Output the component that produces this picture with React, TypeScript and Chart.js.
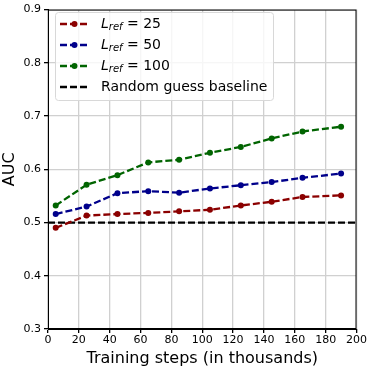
import React, { useEffect, useRef } from "react";
import { Chart, registerables } from "chart.js";
Chart.register(...registerables);

const steps = [5, 25, 45, 65, 85, 105, 125, 145, 165, 190];
const auc25 = [0.49, 0.513, 0.516, 0.518, 0.521, 0.524, 0.532, 0.539, 0.548, 0.551];
const auc50 = [0.516, 0.53, 0.555, 0.559, 0.556, 0.564, 0.57, 0.576, 0.584, 0.592];
const auc100 = [0.532, 0.571, 0.589, 0.613, 0.618, 0.631, 0.642, 0.658, 0.671, 0.68];
const lrefValues = ["25", "50", "100"];
const baselineX = [0, 200];
const baselineY = [0.5, 0.5];
const baselineLabel = "Random guess baseline";
const xTitle = "Training steps (in thousands)";
const yTitle = "AUC";

const FONT = "DejaVu Sans";
const colors = ["#8b0000", "#00008b", "#006400"];
const DASH = [7, 3];

export default function App() {
  const ref = useRef<HTMLCanvasElement>(null);
  useEffect(() => {
    const mk = (vals: number[], i: number) => ({
      label: "L_ref = " + lrefValues[i],
      data: steps.map((s, k) => ({ x: s, y: vals[k] })),
      borderColor: colors[i],
      backgroundColor: colors[i],
      borderWidth: 2.3,
      borderDash: DASH,
      pointRadius: 3,
      pointBorderWidth: 0,
      pointBackgroundColor: colors[i],
      tension: 0,
    });
    const framePlugin = {
      id: "frame",
      afterDraw(chart: any) {
        const { ctx, chartArea: a } = chart;
        ctx.save();
        ctx.strokeStyle = "#000";
        ctx.lineWidth = 1;
        ctx.strokeRect(a.left + 0.5, a.top + 0.5, a.right - a.left - 1, a.bottom - a.top - 1);
        ctx.restore();
      },
    };
    const legendPlugin = {
      id: "mplLegend",
      afterDraw(chart: any) {
        const ctx = chart.ctx as CanvasRenderingContext2D;
        const x0 = 55, y0 = 12, w = 218, h = 88;
        ctx.save();
        ctx.fillStyle = "rgba(255,255,255,0.8)";
        ctx.strokeStyle = "#d8d8d8";
        ctx.lineWidth = 1;
        ctx.beginPath();
        (ctx as any).roundRect(x0 + 0.5, y0 + 0.5, w, h, 3);
        ctx.fill();
        ctx.stroke();
        const rows = [24, 45, 66, 87];
        const ds = chart.data.datasets;
        for (let i = 0; i < 4; i++) {
          const y = rows[i];
          const d = ds[i];
          ctx.strokeStyle = d.borderColor;
          ctx.lineWidth = 2.3;
          ctx.setLineDash(DASH);
          ctx.beginPath();
          ctx.moveTo(60, y);
          ctx.lineTo(89, y);
          ctx.stroke();
          ctx.setLineDash([]);
          if (i < 3) {
            ctx.fillStyle = d.borderColor;
            ctx.beginPath();
            ctx.arc(74.5, y, 3, 0, Math.PI * 2);
            ctx.fill();
          }
          ctx.fillStyle = "#000";
          ctx.textBaseline = "middle";
          ctx.textAlign = "left";
          let tx = 101;
          if (i < 3) {
            ctx.font = `italic 14px "${FONT}"`;
            ctx.fillText("L", tx, y);
            tx += ctx.measureText("L").width;
            ctx.font = `italic 10px "${FONT}"`;
            ctx.fillText("ref", tx, y + 3);
            tx += ctx.measureText("ref").width;
            ctx.font = `14px "${FONT}"`;
            ctx.fillText(" = " + lrefValues[i], tx, y);
          } else {
            ctx.font = `14px "${FONT}"`;
            ctx.fillText(d.label, tx, y);
          }
        }
        ctx.restore();
      },
    };
    const chart = new Chart(ref.current!, {
      type: "line",
      data: {
        datasets: [
          mk(auc25, 0),
          mk(auc50, 1),
          mk(auc100, 2),
          {
            label: baselineLabel,
            data: baselineX.map((x, k) => ({ x, y: baselineY[k] })),
            borderColor: "#000",
            backgroundColor: "#000",
            borderWidth: 2.3,
            borderDash: DASH,
            pointRadius: 0,
          } as any,
        ],
      },
      options: {
        animation: false,
        responsive: false,
        layout: { padding: { top: 5, right: 11, left: 0, bottom: 0 } },
        plugins: { legend: { display: false }, tooltip: { enabled: false } },
        scales: {
          x: {
            type: "linear",
            min: 0,
            max: 200,
            afterFit: (s: any) => { s.height = 39; },
            ticks: { stepSize: 20, color: "#000", font: { family: FONT, size: 11 }, padding: 1, maxRotation: 0 },
            grid: { color: "#d0d0d0", lineWidth: 1.3, tickColor: "#000", tickLength: 4 },
            border: { color: "#000", width: 1 },
            title: { display: true, text: xTitle, color: "#000", font: { family: FONT, size: 16 }, padding: { top: 0, bottom: 0 } },
          },
          y: {
            type: "linear",
            min: 0.3,
            max: 0.9,
            afterFit: (s: any) => { s.width = 48; },
            ticks: { stepSize: 0.1, color: "#000", font: { family: FONT, size: 11 }, padding: 3, callback: (v: any) => Number(v).toFixed(1) },
            grid: { color: "#d0d0d0", lineWidth: 1.3, tickColor: "#000", tickLength: 4 },
            border: { color: "#000", width: 1 },
            title: { display: true, text: yTitle, color: "#000", font: { family: FONT, size: 16 }, padding: { top: 0, bottom: 1 } },
          },
        },
      } as any,
      plugins: [framePlugin, legendPlugin],
    });
    return () => chart.destroy();
  }, []);
  return (
    <div style={{ position: "fixed", left: 0, top: 0, width: 368, height: 368, background: "#fff" }}>
      <canvas ref={ref} width={368} height={368} />
    </div>
  );
}
